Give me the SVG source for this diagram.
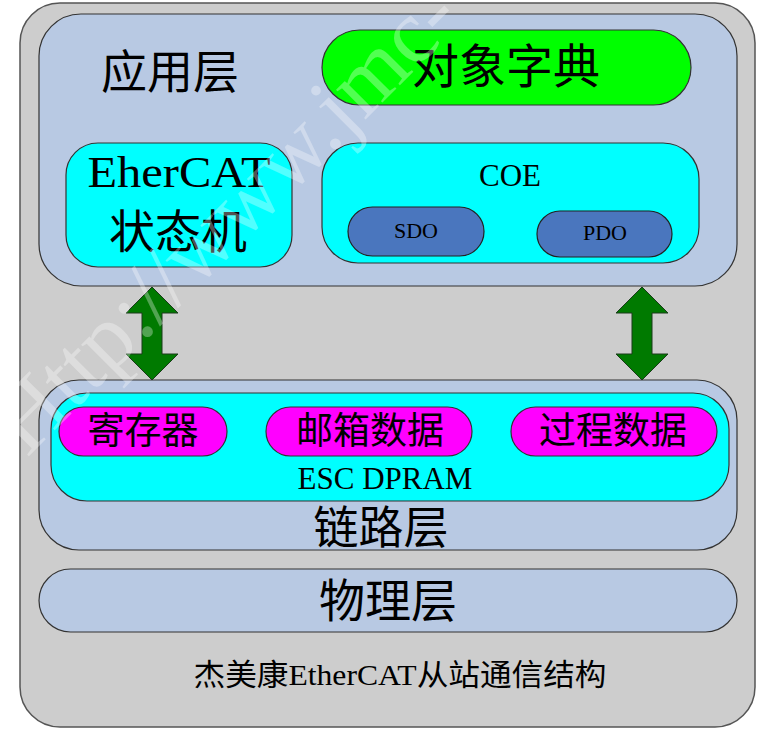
<svg xmlns="http://www.w3.org/2000/svg" width="765" height="739" viewBox="0 0 765 739">
<style>
.cn{font-family:"Noto Sans CJK SC","Liberation Serif",sans-serif;fill:#000;text-anchor:middle}
.lt{font-family:"Liberation Serif","Noto Sans CJK SC",serif;fill:#000;text-anchor:middle}
.layer{fill:#b8c9e3;stroke:#333;stroke-width:1.2}
.cyan{fill:#00ffff;stroke:#333;stroke-width:1.2}
.mag{fill:#ff00ff;stroke:#333;stroke-width:1.2}
.blue{fill:#4a76be;stroke:#222;stroke-width:1.2}
.arrow{fill:#007a00;stroke:#1a3a1a;stroke-width:1}
.wm{font-family:"Liberation Serif",serif;fill:#ffffff;fill-opacity:0.32}
</style>
<rect width="765" height="739" fill="#ffffff"/>
<g id="frame">
<rect x="20" y="3" width="735" height="724" rx="40" fill="#cdcdcd" stroke="#555" stroke-width="1.5"/>
</g>
<g id="app-layer">
<rect class="layer" x="39" y="14" width="698" height="272" rx="42"/>
<text class="cn" x="170" y="88" font-size="46">应用层</text>
</g>
<g id="object-dictionary">
<rect x="322" y="30" width="369" height="75" rx="37.5" fill="#00ff00" stroke="#333" stroke-width="1.2"/>
<text class="cn" x="506" y="83" font-size="47">对象字典</text>
</g>
<g id="state-machine">
<rect class="cyan" x="66" y="143" width="226" height="124" rx="32"/>
<text class="lt" x="179" y="187" font-size="45" textLength="183" lengthAdjust="spacingAndGlyphs">EherCAT</text>
<text class="cn" x="178" y="248" font-size="46">状态机</text>
</g>
<g id="coe">
<rect class="cyan" x="322" y="143" width="377" height="120" rx="36"/>
<text class="lt" x="510" y="186" font-size="31">COE</text>
</g>
<g id="sdo">
<rect class="blue" x="348" y="207" width="136" height="49" rx="24.5"/>
<text class="lt" x="416" y="238" font-size="22">SDO</text>
</g>
<g id="pdo">
<rect class="blue" x="537" y="211" width="135" height="46" rx="23"/>
<text class="lt" x="605" y="240" font-size="22">PDO</text>
</g>
<g id="link-layer">
<rect class="layer" x="39" y="380" width="698" height="170" rx="40"/>
<text class="cn" x="381" y="544" font-size="45">链路层</text>
</g>
<g id="esc-dpram">
<rect class="cyan" x="51" y="393" width="678" height="108" rx="36"/>
<text class="lt" x="385" y="489" font-size="31">ESC DPRAM</text>
</g>
<g id="registers">
<rect class="mag" x="59" y="407" width="168" height="49" rx="24.5"/>
<text class="cn" x="143" y="444" font-size="37">寄存器</text>
</g>
<g id="mailbox-data">
<rect class="mag" x="266" y="407" width="206" height="49" rx="24.5"/>
<text class="cn" x="370" y="444" font-size="37">邮箱数据</text>
</g>
<g id="process-data">
<rect class="mag" x="511" y="407" width="206" height="49" rx="24.5"/>
<text class="cn" x="613" y="444" font-size="37">过程数据</text>
</g>
<g id="physical-layer">
<rect class="layer" x="39" y="569" width="698" height="63" rx="31.5"/>
<text class="cn" x="388" y="617" font-size="46">物理层</text>
</g>
<g id="caption">
<text class="lt" x="400" y="685" font-size="30" textLength="413" lengthAdjust="spacingAndGlyphs">杰美康EtherCAT从站通信结构</text>
</g>
<g id="connectors">
<path class="arrow" d="M152,287 L178,313 L162,313 L162,354 L178,354 L152,380 L126,354 L142,354 L142,313 L126,313 Z"/>
<path class="arrow" d="M642,287 L668,313 L652,313 L652,354 L668,354 L642,380 L616,354 L632,354 L632,313 L616,313 Z"/>
</g>
<g id="watermark">
<text class="wm" x="0" y="0" font-size="91" transform="translate(27,458) rotate(-45)">Http://www.jmc-</text>
</g>
</svg>
